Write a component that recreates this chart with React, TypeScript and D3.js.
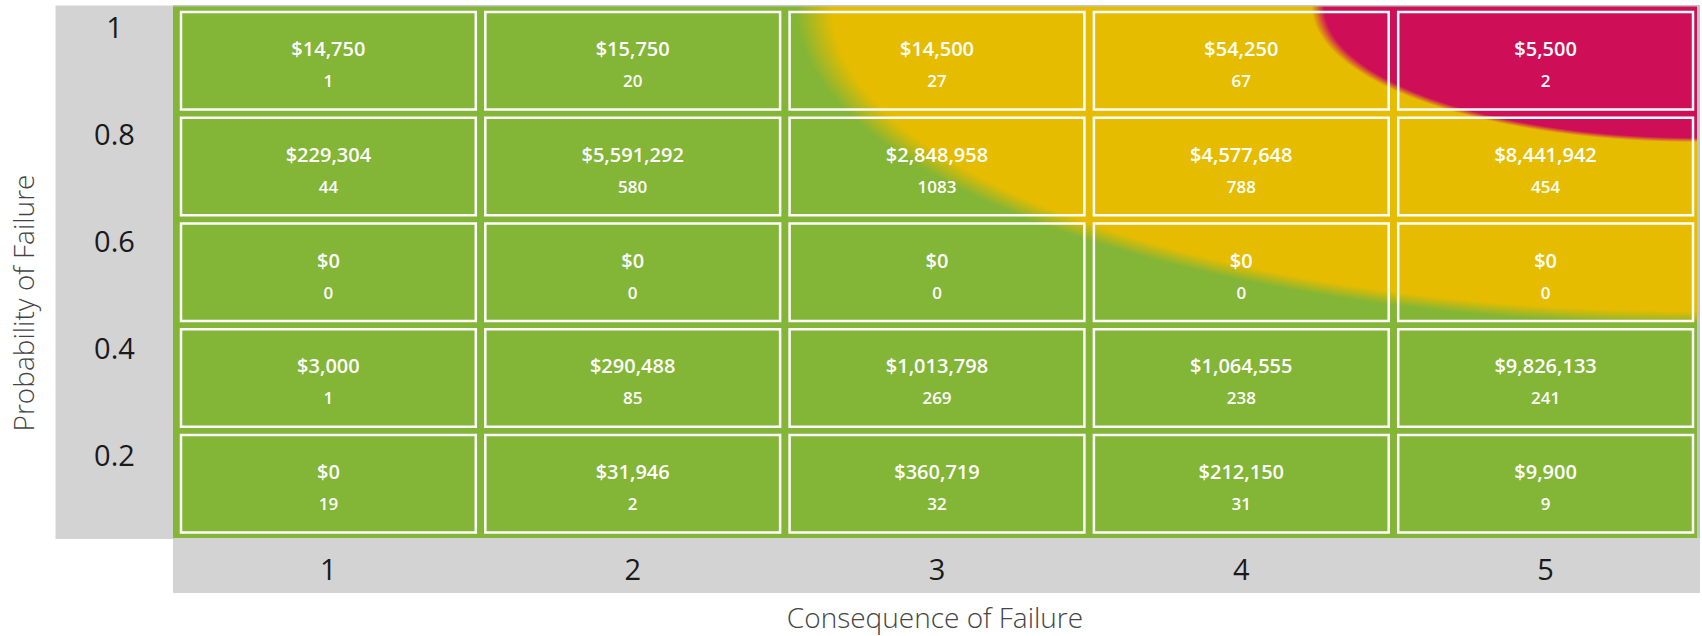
import React from 'react';
import * as d3 from 'd3';

const consequence = ['1', '2', '3', '4', '5'];
const probability = ['1', '0.8', '0.6', '0.4', '0.2'];

const costP10 = [14750, 15750, 14500, 54250, 5500];
const costP08 = [229304, 5591292, 2848958, 4577648, 8441942];
const costP06 = [0, 0, 0, 0, 0];
const costP04 = [3000, 290488, 1013798, 1064555, 9826133];
const costP02 = [0, 31946, 360719, 212150, 9900];

const countP10 = [1, 20, 27, 67, 2];
const countP08 = [44, 580, 1083, 788, 454];
const countP06 = [0, 0, 0, 0, 0];
const countP04 = [1, 85, 269, 238, 241];
const countP02 = [19, 2, 32, 31, 9];

const costRows = [costP10, costP08, costP06, costP04, costP02];
const countRows = [countP10, countP08, countP06, countP04, countP02];

const W = 1702;
const H = 636;
const GREEN = '#83B536';
const YELLOW = '#E6BC00';
const RED = '#CE0F57';
const GRAY = '#D3D3D3';
const FONT = "'Open Sans', 'Noto Sans', sans-serif";

export default function App() {
  const plotL = 173, plotR = 1697, plotT = 6.5, plotB = 538;
  const xBand = d3.scaleBand<string>().domain(consequence).range([181, 1702.5]);
  const yBand = d3.scaleBand<string>().domain(probability).range([12, 540.75]);
  const cellW = xBand.bandwidth() - 9.5;
  const cellH = yBand.bandwidth() - 8.25;
  const yTick = d3.scalePoint<string>().domain(probability).range([27.5, 455]);
  const fmt = d3.format('$,.0f');

  const cells: { r: number; c: number; cost: number; count: number }[] = [];
  probability.forEach((_, r) =>
    consequence.forEach((_, c) => cells.push({ r, c, cost: costRows[r][c], count: countRows[r][c] }))
  );

  const gr = 920;
  return (
    <svg width={W} height={H} style={{ position: 'absolute', left: 0, top: 0 }} fontFamily={FONT}>
      <defs>
        <radialGradient
          id="risk"
          gradientUnits="userSpaceOnUse"
          cx={0}
          cy={0}
          r={gr}
          gradientTransform={`translate(${plotR},${plotT}) scale(1,0.352)`}
        >
          <stop offset="0" stopColor={RED} />
          <stop offset="0.405" stopColor={RED} />
          <stop offset="0.419" stopColor={YELLOW} />
          <stop offset="0.94" stopColor={YELLOW} />
          <stop offset="0.98" stopColor={GREEN} />
          <stop offset="1" stopColor={GREEN} />
        </radialGradient>
      </defs>
      {/* axis bands */}
      <rect x={55.5} y={5.5} width={plotL - 55.5} height={539 - 5.5} fill={GRAY} />
      <rect x={plotL} y={plotB} width={1700 - plotL} height={593 - plotB} fill={GRAY} />
      <rect x={plotL} y={5} width={1700 - plotL} height={plotB - 5} fill="#c4c4c4" />
      <rect x={plotL} y={plotT} width={plotR - plotL} height={plotB - plotT} fill="url(#risk)" />

      {cells.map((d) => {
        const x = xBand(consequence[d.c])!;
        const y = yBand(probability[d.r])!;
        const cx = x + cellW / 2;
        return (
          <g key={`${d.r}-${d.c}`}>
            <rect x={x} y={y} width={cellW} height={cellH} fill="none" stroke="#ffffff" strokeWidth={2.5} />
            <text x={cx} y={y + 44} textAnchor="middle" fill="#ffffff" fontSize={20} fontWeight={600}>
              {fmt(d.cost)}
            </text>
            <text x={cx} y={y + 75} textAnchor="middle" fill="#ffffff" fontSize={17} fontWeight={600}>
              {d.count}
            </text>
          </g>
        );
      })}

      {probability.map((p) => (
        <text key={p} x={114.5} y={yTick(p)! + 10.5} textAnchor="middle" fill="#1a1a1a" fontSize={29}>
          {p}
        </text>
      ))}
      {consequence.map((c) => (
        <text key={c} x={xBand(c)! + cellW / 2} y={580} textAnchor="middle" fill="#1a1a1a" fontSize={29}>
          {c}
        </text>
      ))}

      <text x={935} y={628} textAnchor="middle" fill="#444" fontSize={28} fontWeight={300}>
        Consequence of Failure
      </text>
      <text
        transform={`translate(34,303) rotate(-90)`}
        textAnchor="middle"
        fill="#444"
        fontSize={28}
        fontWeight={300}
      >
        Probability of Failure
      </text>
    </svg>
  );
}
